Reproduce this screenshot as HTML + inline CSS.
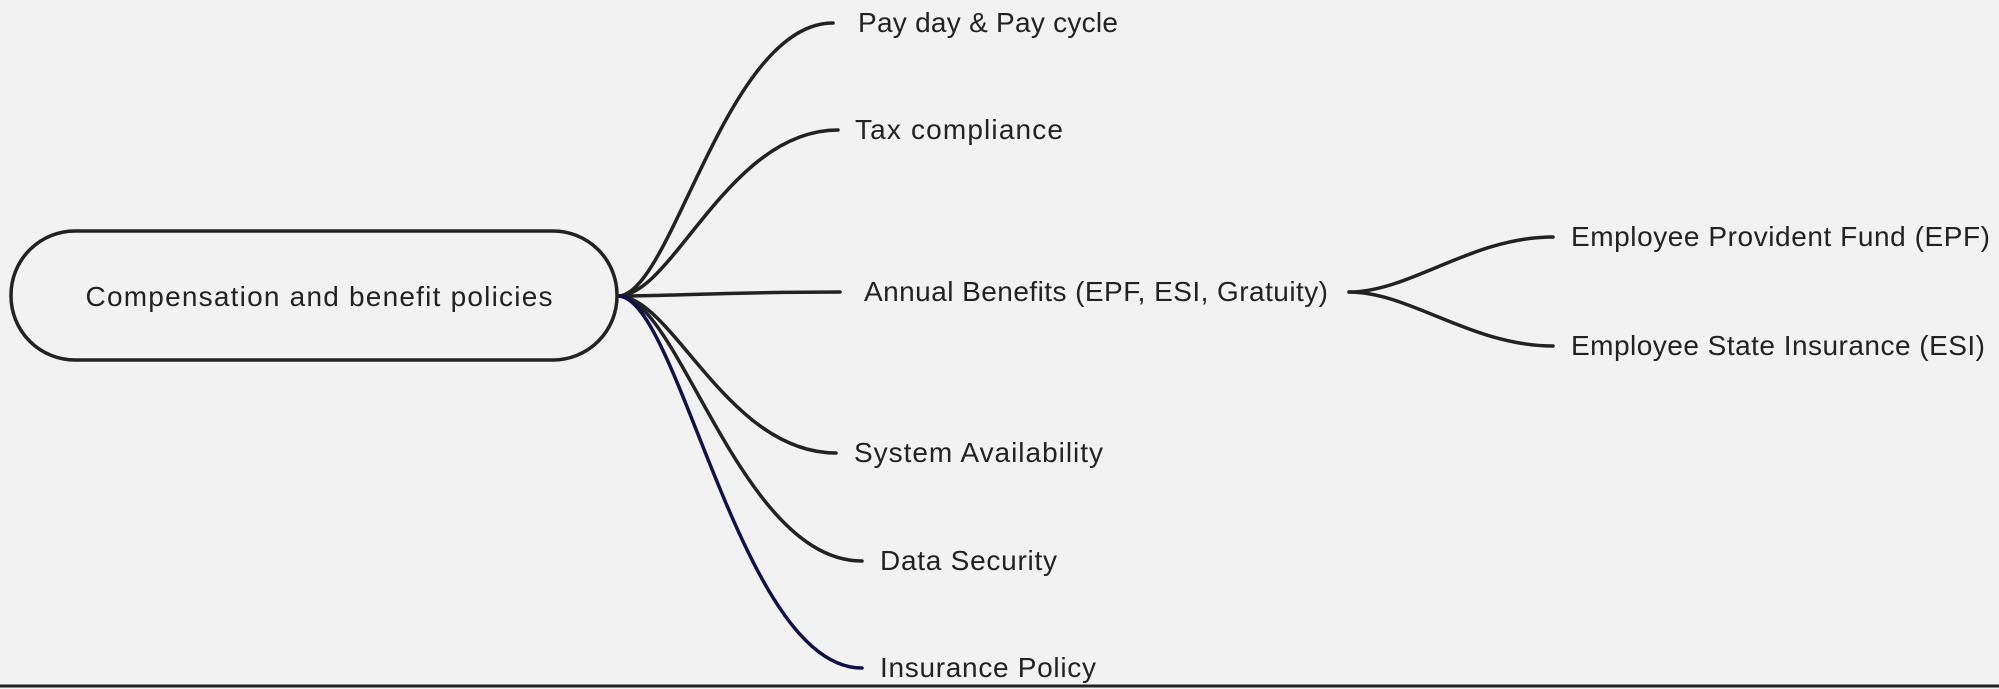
<!DOCTYPE html>
<html><head><meta charset="utf-8"><style>
html,body{margin:0;padding:0;background:#f2f2f2;}
svg{display:block;}
text{font-family:"Liberation Sans",sans-serif;fill:#222;font-size:28px;}
</style></head><body>
<svg width="1999" height="689" viewBox="0 0 1999 689">
<rect x="0" y="0" width="1999" height="689" fill="#f2f2f2"/>
<g id="links" fill="none" stroke-width="3.5" stroke-linecap="round"></g>
<rect x="11" y="231" width="606" height="129" rx="64" ry="64" fill="#f2f2f2" stroke="#222" stroke-width="3.5"/>
<text x="319" y="306" text-anchor="middle" textLength="467" font-size="29">Compensation and benefit policies</text>
<g id="labels"></g>
<line x1="0" y1="686" x2="1999" y2="686" stroke="#222" stroke-width="3"/>
</svg>
<script>
const labels = ["Pay day & Pay cycle","Tax compliance","Annual Benefits (EPF, ESI, Gratuity)","System Availability","Data Security","Insurance Policy"];
const endX = [833,838,840,836,862,862];
const endY = [23,130,292,453,561,668];
const textX = [858,855,864,854,880,880];
const textW = [260,208,464,249,177,216];
const colors = ["#222","#222","#222","#222","#222","#12104a"];
const subLabels = ["Employee Provident Fund (EPF)","Employee State Insurance (ESI)"];
const subEndY = [237,346];
const subTextW = [419,414];

const ns = "http://www.w3.org/2000/svg";
const links = document.getElementById('links');
const lg = document.getElementById('labels');
function curve(x0,y0,x1,y1,color,name,a,b){
  const dx = x1-x0;
  const p = document.createElementNS(ns,'path');
  p.setAttribute('d',`M${x0},${y0} C${x0+dx*a},${y0} ${x0+dx*b},${y1} ${x1},${y1}`);
  p.setAttribute('stroke',color);
  
  
  links.appendChild(p);
}
function label(x,y,str,w,name){
  const t = document.createElementNS(ns,'text');
  t.setAttribute('x',x);
  t.setAttribute('y',y+9);
  t.setAttribute('textLength',w);
  t.textContent = str;
  
  
  lg.appendChild(t);
}
const ox = 618, oy = 296;
labels.forEach((l,i)=>{
  curve(ox,oy,endX[i],endY[i],colors[i],'branch-link',0.25,0.5);
  label(textX[i],endY[i],l,textW[i],'branch-label');
});
const sx = 1349, sy = 292, sex = 1553, stx = 1571;
subLabels.forEach((l,i)=>{
  curve(sx,sy,sex,subEndY[i],'#222','sub-branch-link',0.3,0.6);
  label(stx,subEndY[i],l,subTextW[i],'sub-branch-label');
});
</script>
</body></html>
